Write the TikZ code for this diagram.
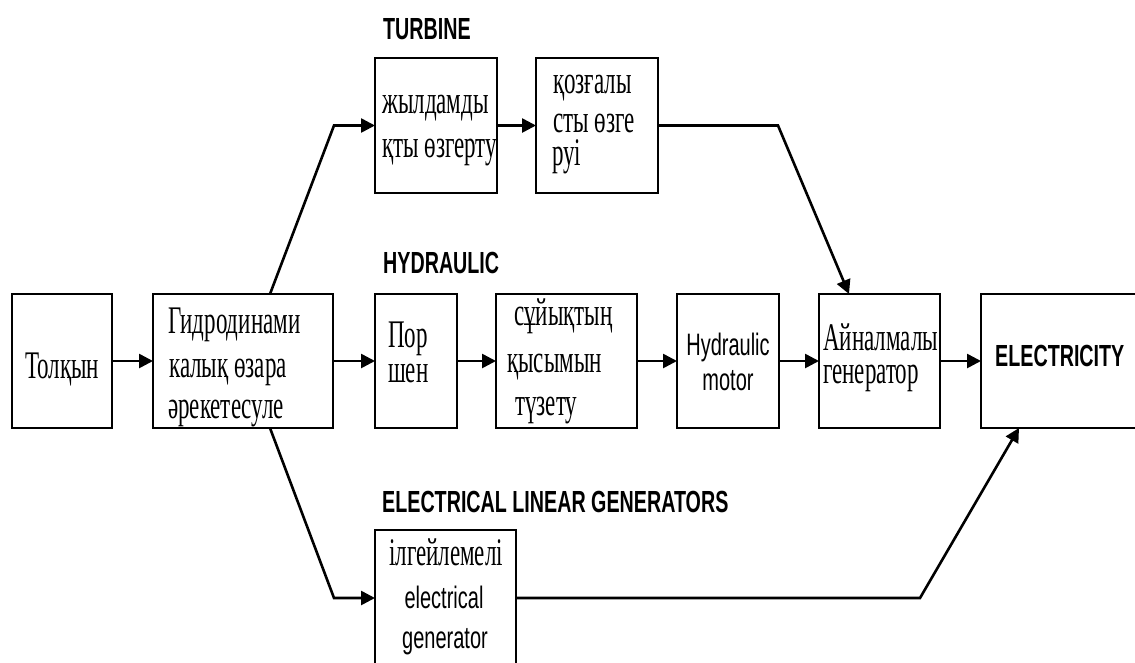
\documentclass[tikz,border=0pt]{standalone}
\usepackage{fontspec}
\usepackage{graphicx}
\setmainfont{Liberation Serif}
\newfontfamily\sansfam{Liberation Sans}
\usetikzlibrary{arrows.meta}
\newcommand{\vsr}[1]{\scalebox{1}[1.7]{#1}}
\newcommand{\vsa}[1]{\scalebox{1}[1.55]{#1}}
\tikzset{
  box/.style={draw, line width=2.4pt, inner sep=0pt, outer sep=0pt},
  arr/.style={line width=2.6pt, -{Triangle[length=14pt, width=14pt]}},
  ln/.style={line width=2.6pt},
  txt/.style={inner sep=0pt, font=\fontsize{23}{27}\selectfont},
  stxt/.style={inner sep=0pt, font=\sansfam\fontsize{20}{24}\selectfont},
  btxt/.style={inner sep=0pt, font=\sansfam\bfseries\fontsize{19.7}{24}\selectfont},
}
\begin{document}
\begin{tikzpicture}[x=1pt, y=-1pt]
\useasboundingbox (0,0) rectangle (1135,662);
\clip (0,0) rectangle (1135,662);
\fill[white] (0,0) rectangle (1135,662);
% boxes
\node[box, minimum width=100pt, minimum height=134pt] (tol) at (62,361) {};
\node[box, minimum width=180pt, minimum height=134pt] (gid) at (243,361) {};
\node[box, minimum width=82pt, minimum height=134pt] (por) at (416,361) {};
\node[box, minimum width=141pt, minimum height=134pt] (suy) at (566.5,361) {};
\node[box, minimum width=102pt, minimum height=134pt] (hm) at (728,361) {};
\node[box, minimum width=121pt, minimum height=134pt] (ain) at (879.5,361) {};
\node[box, minimum width=164pt, minimum height=134pt] (el) at (1063,361) {};
\node[box, minimum width=122pt, minimum height=135pt] (zhyl) at (436,125.5) {};
\node[box, minimum width=122pt, minimum height=135pt] (qoz) at (597,125.5) {};
\node[box, minimum width=141pt, minimum height=136pt] (ilg) at (445.5,598) {};
% titles
\node[btxt, anchor=base west] (ttur) at (383,39) {\vsa{TURBINE}};
\node[btxt, anchor=base west] (thyd) at (383,273) {\vsa{HYDRAULIC}};
\node[btxt, anchor=base west] (telg) at (382,512) {\vsa{ELECTRICAL LINEAR GENERATORS}};
% texts
\node[txt, anchor=base] (x1) at (62,378) {\vsr{Толқын}};
\node[txt, anchor=base west] (x2a) at (168,333) {\vsr{Гидродинами}};
\node[txt, anchor=base west] (x2b) at (169,377) {\vsr{калық өзара}};
\node[txt, anchor=base west] (x2c) at (168,418) {\vsr{әрекетесуле}};
\node[txt, anchor=base west] (x3a) at (382,113) {\vsr{жылдамды}};
\node[txt, anchor=base west] (x3b) at (382,157) {\vsr{қты өзгерту}};
\node[txt, anchor=base west] (x4a) at (553,93) {\vsr{қозғалы}};
\node[txt, anchor=base west] (x4b) at (553,132) {\vsr{сты өзге}};
\node[txt, anchor=base west] (x4c) at (552,165) {\vsr{руі}};
\node[txt, anchor=base west] (x5a) at (388,347) {\vsr{Пор}};
\node[txt, anchor=base west] (x5b) at (388,382) {\vsr{шен}};
\node[txt, anchor=base west] (x6a) at (514,325) {\vsr{сұйықтың}};
\node[txt, anchor=base west] (x6b) at (507,372) {\vsr{қысымын}};
\node[txt, anchor=base west] (x6c) at (515,415) {\vsr{түзету}};
\node[stxt, anchor=base] (x7a) at (728,355) {\vsa{Hydraulic}};
\node[stxt, anchor=base] (x7b) at (728,390) {\vsa{motor}};
\node[txt, anchor=base west] (x8a) at (823,350) {\vsr{Айналмалы}};
\node[txt, anchor=base west] (x8b) at (823,383) {\vsr{генератор}};
\node[btxt, anchor=base west] (x9) at (995,366) {\vsa{ELECTRICITY}};
\node[txt, anchor=base west] (x10a) at (389,565) {\vsr{ілгейлемелі}};
\node[stxt, anchor=base] (x10b) at (444,608) {\vsa{electrical}};
\node[stxt, anchor=base] (x10c) at (445,648) {\vsa{generator}};
% coordinates
\coordinate (t1) at (334,125.5);
\coordinate (t2) at (778,125.5);
\coordinate (b1) at (334,598);
\coordinate (b2) at (920,598);
% connectors
\draw[arr] (tol.east) -- (gid.west);
\draw[arr] (gid.east) -- (por.west);
\draw[arr] (por.east) -- (suy.west);
\draw[arr] (suy.east) -- (hm.west);
\draw[arr] (hm.east) -- (ain.west);
\draw[arr] (ain.east) -- (el.west);
\draw[arr] ([xshift=117pt]gid.north west) -- (t1) -- (zhyl.west);
\draw[arr] (zhyl.east) -- (qoz.west);
\draw[arr] (qoz.east) -- (t2) -- ([xshift=30pt]ain.north west);
\draw[arr] ([xshift=117pt]gid.south west) -- (b1) -- (ilg.west);
\draw[arr] (ilg.east) -- (b2) -- ([xshift=38pt]el.south west);
\end{tikzpicture}
\end{document}
